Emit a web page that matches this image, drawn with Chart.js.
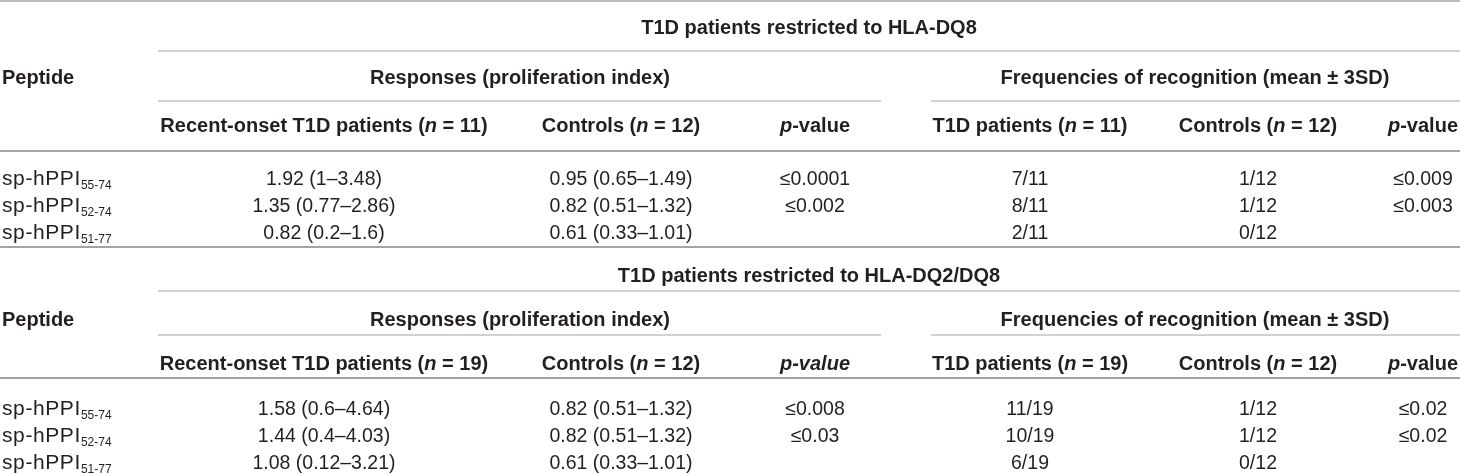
<!DOCTYPE html>
<html lang="en">

<head>
  <title>Peptide responses in T1D patients</title>
  <script src="https://cdn.jsdelivr.net/npm/chart.js"></script>
  <style>
    body { margin: 0; background: #fff; }
    canvas { display: block; }
  </style>
</head>

<body>
  <canvas id="myChart" width="1460" height="473"></canvas>
  <script>
    // table contents: *..* = italic, _.. = subscript
    var peptides = ['sp-hPPI_55-74', 'sp-hPPI_52-74', 'sp-hPPI_51-77'];
    var blockTitles = ['T1D patients restricted to HLA-DQ8', 'T1D patients restricted to HLA-DQ2/DQ8'];
    var groupHeaders = ['Responses (proliferation index)', 'Frequencies of recognition (mean ± 3SD)'];
    var headersDQ8 = ['Recent-onset T1D patients (*n* = 11)', 'Controls (*n* = 12)', '*p*-value',
      'T1D patients (*n* = 11)', 'Controls (*n* = 12)', '*p*-value'];
    var headersDQ2DQ8 = ['Recent-onset T1D patients (*n* = 19)', 'Controls (*n* = 12)', '*p-value*',
      'T1D patients (*n* = 19)', 'Controls (*n* = 12)', '*p*-value'];

    var dq8Patients = ['1.92 (1–3.48)', '1.35 (0.77–2.86)', '0.82 (0.2–1.6)'];
    var dq8Controls = ['0.95 (0.65–1.49)', '0.82 (0.51–1.32)', '0.61 (0.33–1.01)'];
    var dq8RespP = ['≤0.0001', '≤0.002', ''];
    var dq8FreqPatients = ['7/11', '8/11', '2/11'];
    var dq8FreqControls = ['1/12', '1/12', '0/12'];
    var dq8FreqP = ['≤0.009', '≤0.003', ''];

    var dq2dq8Patients = ['1.58 (0.6–4.64)', '1.44 (0.4–4.03)', '1.08 (0.12–3.21)'];
    var dq2dq8Controls = ['0.82 (0.51–1.32)', '0.82 (0.51–1.32)', '0.61 (0.33–1.01)'];
    var dq2dq8RespP = ['≤0.008', '≤0.03', ''];
    var dq2dq8FreqPatients = ['11/19', '10/19', '6/19'];
    var dq2dq8FreqControls = ['1/12', '1/12', '0/12'];
    var dq2dq8FreqP = ['≤0.02', '≤0.02', ''];

    // layout (in scale units, same as page pixels)
    var colX = [2, 324, 621, 815, 1030, 1258, 1423];
    var groupX = [520, 1195];
    var titleX = 809;
    var blocks = [
      { title: blockTitles[0], headers: headersDQ8, rowY: { title: 27, group: 77, head: 125, body: [178, 205, 232] },
        cols: [peptides, dq8Patients, dq8Controls, dq8RespP, dq8FreqPatients, dq8FreqControls, dq8FreqP],
        rules: [[1, 0, 1460, 1.5], [51, 158, 1460, 1], [101, 158, 881, 1], [101, 931, 1460, 1], [151, 0, 1460, 2], [247, 0, 1460, 2]] },
      { title: blockTitles[1], headers: headersDQ2DQ8, rowY: { title: 275, group: 319, head: 363, body: [408, 435, 462] },
        cols: [peptides, dq2dq8Patients, dq2dq8Controls, dq2dq8RespP, dq2dq8FreqPatients, dq2dq8FreqControls, dq2dq8FreqP],
        rules: [[291, 158, 1460, 1], [335, 158, 881, 1], [335, 931, 1460, 1], [378, 0, 1460, 2]] }
    ];

    var textColor = '#231f20';
    var ruleColor = '#a3a3a3';
    var fontFamily = '"Liberation Sans", Arial, sans-serif';
    var boldSize = 20;
    var bodySize = 19.5;
    var peptideSize = 21;
    var subSize = 12;

    // one point per cell, one line per rule
    var cells = [];
    var datasets = [];
    blocks.forEach(function (b) {
      cells.push({ x: titleX, y: b.rowY.title, text: b.title, bold: true, align: 'center' });
      cells.push({ x: colX[0], y: b.rowY.group, text: 'Peptide', bold: true, align: 'left' });
      groupHeaders.forEach(function (g, i) {
        cells.push({ x: groupX[i], y: b.rowY.group, text: g, bold: true, align: 'center' });
      });
      b.headers.forEach(function (h, i) {
        cells.push({ x: colX[i + 1], y: b.rowY.head, text: h, bold: true, align: 'center' });
      });
      b.cols.forEach(function (col, c) {
        col.forEach(function (v, r) {
          if (!v) return;
          if (c === 0) {
            cells.push({ x: colX[c], y: b.rowY.body[r], text: v, bold: false, align: 'left', size: peptideSize, spacing: 0.6 });
          } else {
            cells.push({ x: colX[c], y: b.rowY.body[r], text: v, bold: false, align: 'center' });
          }
        });
      });
      b.rules.forEach(function (r) {
        datasets.push({
          data: [{ x: r[1], y: r[0] }, { x: r[2], y: r[0] }],
          showLine: true, borderColor: ruleColor, borderWidth: r[3],
          pointRadius: 0, clip: false
        });
      });
    });
    datasets.push({ label: 'cells', data: cells, pointRadius: 0, showLine: false, clip: false });

    function parseRich(text) {
      // returns segments {t, italic, sub}
      var segs = [];
      var italic = false, sub = false, buf = '';
      for (var i = 0; i < text.length; i++) {
        var ch = text[i];
        if (ch === '*' || ch === '_') {
          if (buf) segs.push({ t: buf, italic: italic, sub: sub });
          buf = '';
          if (ch === '*') italic = !italic; else sub = true;
        } else {
          buf += ch;
        }
      }
      if (buf) segs.push({ t: buf, italic: italic, sub: sub });
      return segs;
    }

    function segFont(s, cell) {
      var size = s.sub ? subSize : (cell.size || (cell.bold ? boldSize : bodySize));
      return (s.italic ? 'italic ' : '') + (cell.bold ? 'bold ' : '') + size + 'px ' + fontFamily;
    }

    var cellText = {
      id: 'cellText',
      afterDatasetsDraw: function (chart) {
        var ctx = chart.ctx;
        var dsIndex = chart.data.datasets.length - 1;
        var meta = chart.getDatasetMeta(dsIndex);
        var data = chart.data.datasets[dsIndex].data;
        ctx.save();
        ctx.fillStyle = textColor;
        ctx.textBaseline = 'alphabetic';
        ctx.textAlign = 'left';
        meta.data.forEach(function (pt, i) {
          var cell = data[i];
          var segs = parseRich(cell.text);
          var total = 0;
          segs.forEach(function (s) {
            ctx.font = segFont(s, cell);
            s.sp = s.sub ? 0 : (cell.spacing || 0);
            s.w = ctx.measureText(s.t).width + s.sp * s.t.length;
            total += s.w;
          });
          var x = pt.x;
          if (cell.align === 'center') x -= total / 2;
          var base = pt.y + 7;
          segs.forEach(function (s) {
            ctx.font = segFont(s, cell);
            var y = s.sub ? base + 4 : base;
            if (s.sp) {
              var cx = x;
              for (var k = 0; k < s.t.length; k++) {
                ctx.fillText(s.t[k], cx, y);
                cx += ctx.measureText(s.t[k]).width + s.sp;
              }
            } else {
              ctx.fillText(s.t, x, y);
            }
            x += s.w;
          });
        });
        ctx.restore();
      }
    };

    new Chart(document.getElementById('myChart'), {
      type: 'scatter',
      data: { datasets: datasets },
      options: {
        responsive: false,
        animation: false,
        events: [],
        layout: { padding: 0 },
        plugins: { legend: { display: false }, tooltip: { enabled: false } },
        scales: {
          x: { type: 'linear', min: 0, max: 1460, display: false },
          y: { type: 'linear', min: 0, max: 473, reverse: true, display: false }
        }
      },
      plugins: [cellText]
    });
  </script>
</body>

</html>
